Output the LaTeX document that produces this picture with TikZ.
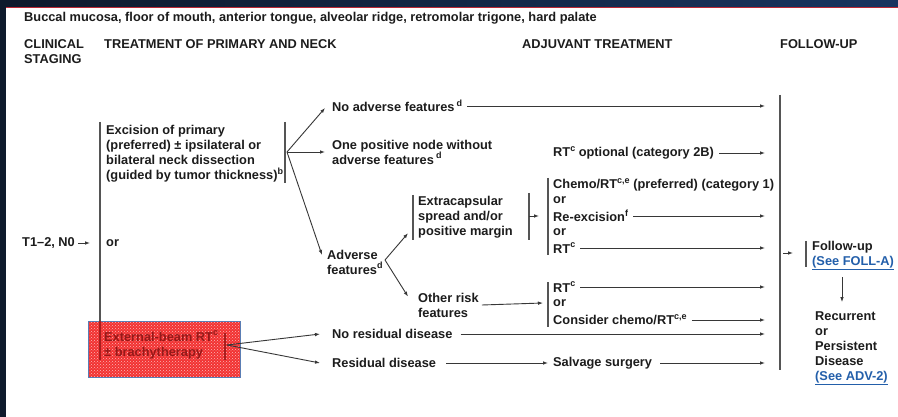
\documentclass[tikz,border=0pt]{standalone}
\usepackage{fontspec}
\setmainfont{Liberation Sans}
\usetikzlibrary{arrows.meta,patterns}
\definecolor{nccnink}{RGB}{28,28,28}
\definecolor{nccnline}{RGB}{55,55,55}
\definecolor{nccnbar}{RGB}{85,85,85}
\definecolor{nccnblue}{RGB}{35,95,170}
\definecolor{slidenavy}{RGB}{24,52,95}
\definecolor{slidedark}{RGB}{14,26,44}
\definecolor{slidered}{RGB}{185,40,52}
\definecolor{markred}{RGB}{242,50,50}
\definecolor{markink}{RGB}{150,25,25}
\definecolor{markedge}{RGB}{90,125,180}
\newcommand{\fnote}[1]{\raisebox{0.42em}{\fontsize{9}{9}\selectfont #1}}

\begin{document}
\begin{tikzpicture}[
  x=1pt, y=-1pt,
  txt/.style={anchor=west, inner sep=0pt, align=left, font=\bfseries\fontsize{12.8}{15}\selectfont, text=nccnink},
  head/.style={txt},
  link/.style={txt, text=nccnblue},
  bar/.style={draw=nccnbar, line width=1.2pt},
  arrow/.style={-{Latex[length=5pt,width=3.6pt]}, draw=nccnline, line width=0.9pt}
]
\useasboundingbox (0,0) rectangle (898,417);

% slide frame
\fill[white] (0,0) rectangle (898,417);
\shade[left color=slidedark, right color=slidenavy] (0,0) rectangle (898,7.5);
\fill[slidedark] (0,0) rectangle (6,417);
\draw[slidered, line width=1pt] (6,8) -- (898,8);

% headings
\node[txt] (site) at (24,18) {Buccal mucosa, floor of mouth, anterior tongue, alveolar ridge, retromolar trigone, hard palate};
\node[head] (hstage) at (24,51.5) {CLINICAL\\STAGING};
\node[head] (hprim) at (104,44) {TREATMENT OF PRIMARY AND NECK};
\node[head] (hadj) at (522,44) {ADJUVANT TREATMENT};
\node[head] (hfu) at (780,44) {FOLLOW-UP};

% highlighted radiotherapy option
\fill[markred] (88,321) rectangle (240,377);
\fill[pattern=crosshatch dots, pattern color=white!65!markred] (88,321) rectangle (240,377);
\draw[markedge, line width=0.8pt] (88,321) rectangle (240,377);

% primary treatment
\node[txt] (stage) at (22,243) {T1--2, N0};
\node[txt] (or0) at (106,243) {or};
\node[txt] (excision) at (106,154) {Excision of primary\\(preferred) ± ipsilateral or\\bilateral neck dissection\\(guided by tumor thickness)\fnote{b}};
\node[txt, text=markink] (ebrt) at (104,345) {External-beam RT\fnote{c}\\± brachytherapy};
\draw[bar] (100,122) -- (100,321);
\draw[bar, draw=markink!80!markred] (100,321) -- (100,360);
\draw[bar] (285,122) -- (285,183);
\draw[bar, draw=markink!80!markred] (225,333) -- (225,360);
\draw[arrow] ([xshift=3pt]stage.east) -- ([xshift=-16pt]or0.west);

% pathology after surgery
\node[txt] (noadv) at (332,106) {No adverse features\,\fnote{d}};
\node[txt] (onepos) at (332,152) {One positive node without\\adverse features\,\fnote{d}};
\node[txt] (rtopt) at (553,153) {RT\fnote{c} optional (category 2B)};
\node[txt] (adverse) at (327,262) {Adverse\\features\fnote{d}};
\coordinate (fork1) at (287,152);
\draw[arrow] (fork1) -- ([xshift=-7pt,yshift=-2pt]noadv.west);
\draw[arrow] (fork1) -- ([xshift=-7pt]onepos.west);
\draw[arrow] (fork1) -- ([xshift=-5pt,yshift=7pt]adverse.west);

% adverse features split
\node[txt] (extra) at (418,217) {Extracapsular\\spread and/or\\positive margin};
\node[txt] (other) at (418,305) {Other risk\\features};
\coordinate (fork2) at (385,260);
\draw[arrow] (fork2) -- ([xshift=-10pt,yshift=5pt]extra.south west);
\draw[arrow] (fork2) -- ([xshift=-10pt,yshift=-4pt]other.north west);
\draw[bar] (413,195) -- (413,240);
\draw[bar] (529,193) -- (529,240);

% adjuvant choices
\node[txt] (chemo) at (553,185) {Chemo/RT\fnote{c,e} (preferred) (category 1)};
\node[txt] (or1) at (553,200) {or};
\node[txt] (reexc) at (553,216) {Re-excision\fnote{f}};
\node[txt] (or2) at (553,232) {or};
\node[txt] (rtc) at (553,248) {RT\fnote{c}};
\node[txt] (rtother) at (553,287) {RT\fnote{c}};
\node[txt] (or3) at (553,303) {or};
\node[txt] (conschemo) at (553,320) {Consider chemo/RT\fnote{c,e}};
\draw[bar] (548,178) -- (548,255);
\draw[bar] (548,282) -- (548,327);
\coordinate (xbar) at (529,216);
\draw[arrow] (xbar) -- ([xshift=-14pt]reexc.west);
\draw[arrow] ([xshift=3pt]other.east) -- ([xshift=-10pt]or3.west);

% after radiotherapy
\node[txt] (noresid) at (332,334) {No residual disease};
\node[txt] (resid) at (332,363) {Residual disease};
\node[txt] (salvage) at (553,363) {Salvage surgery};
\coordinate (fork3) at (227,345);
\draw[arrow] (fork3) -- ([xshift=-12pt]noresid.west);
\draw[arrow] (fork3) -- ([xshift=-12pt]resid.west);
\draw[arrow] ([xshift=10pt]resid.east) -- ([xshift=-5pt]salvage.west);

% into follow-up
\coordinate (fuin) at (765,0);
\draw[arrow] ([xshift=5pt]noadv.east) -- (noadv.east -| fuin);
\draw[arrow] ([xshift=5pt]rtopt.east) -- (rtopt.east -| fuin);
\draw[arrow] ([xshift=5pt]reexc.east) -- (reexc.east -| fuin);
\draw[arrow] ([xshift=5pt]rtc.east) -- (rtc.east -| fuin);
\draw[arrow] ([xshift=5pt]rtother.east) -- (rtother.east -| fuin);
\draw[arrow] ([xshift=5pt]conschemo.east) -- (conschemo.east -| fuin);
\draw[arrow] ([xshift=8pt]noresid.east) -- (noresid.east -| fuin);
\draw[arrow] ([xshift=8pt]salvage.east) -- (salvage.east -| fuin);
\draw[bar] (780,95) -- (780,370);

% follow-up
\node[txt] (fu) at (812,247) {Follow-up};
\node[link] (foll) at (812,263) {\underline{(See FOLL-A)}};
\node[txt] (recur) at (815,348) {Recurrent\\or\\Persistent\\Disease\\\textcolor{nccnblue}{\underline{(See ADV-2)}}};
\draw[bar] (806,241) -- (806,267);
\coordinate (fuout) at (783,253);
\coordinate (fuend) at (793,253);
\draw[arrow] (fuout) -- (fuend);
\draw[arrow] ([yshift=-7pt]foll.south -| 842,0) -- ([yshift=9pt]recur.north -| 842,0);

\end{tikzpicture}
\end{document}
